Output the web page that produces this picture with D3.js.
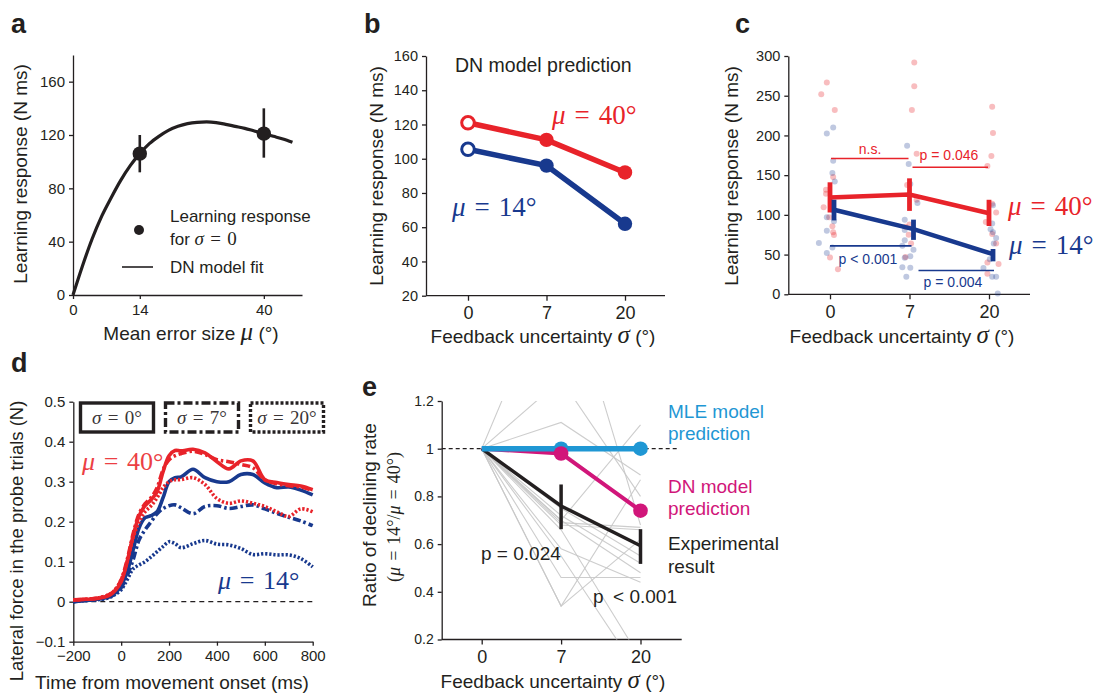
<!DOCTYPE html>
<html><head><meta charset="utf-8">
<script src="https://cdn.jsdelivr.net/npm/d3@7/dist/d3.min.js"></script>
<style>
body{margin:0;background:#fff;}
svg{display:block;}
</style></head><body>
<svg id="fig" width="1099" height="694"></svg>
<script>
// ================= DATA =================
// panel a : DN model fit and observed learning response (sigma = 0)
const fitMu   = [0,2,4,6,8,10,12,14,16,18,20,22,24,26,28,30,32,34,36,38,40,42,44,46];
const fitResp = [0,22,42,59,73,86,97,106,113.5,119,123.5,126.5,128.5,129.5,129.8,129.3,128,126.5,125,123,121,119,117,114.5];
const obsMu   = [14, 40];
const obsResp = [106, 121];
const obsLo   = [92, 103];
const obsHi   = [120, 140];
const aYTicks = [0, 40, 80, 120, 160];
const aXTicks = [0, 14, 40];

// shared categories
const sigmaCats = ["0", "7", "20"];

// panel b : DN model prediction
const dnPred40 = [121, 111, 92];
const dnPred14 = [105.5, 96, 62];
const bYTicks = [20, 40, 60, 80, 100, 120, 140, 160];

// panel c : experimental learning response (mean, sem) and subjects [value, jitter]
const mean40 = [122, 125.5, 102];
const lo40   = [103, 105, 86];
const hi40   = [141, 146, 119];
const mean14 = [106.5, 82, 50.5];
const lo14   = [93, 68.5, 41.5];
const hi14   = [119, 94, 57];
const subj40s0  = [[252,-0.11],[266.5,-0.04],[232,0.06],[147.6,0.04],[131.6,-0.05],[126.6,-0.05],[109.6,-0.08],[97,-0.01],[85.6,0.03],[78,0.04],[74.7,0.05],[46.3,0.0],[31.6,0.10]];
const subj40s7  = [[291.7,0.06],[262,0.06],[232,0.03],[177,0.09],[137.7,-0.03],[119,0.09],[88,0.0],[85,-0.05],[75,-0.01],[64,0.02],[47,-0.05]];
const subj40s20 = [[236,0.04],[203,0.05],[174,0.03],[161.6,-0.02],[114,0.04],[103,0.09],[91,-0.04],[76,0.04],[64,0.09],[40,-0.02],[38,0.12],[26,-0.02]];
const subj14s0  = [[202.5,-0.04],[210,0.04],[168,0.04],[152.7,0.03],[142,0.06],[106,0.03],[97,-0.04],[92,0.05],[80,-0.04],[64.5,-0.14],[59,0.03],[52,-0.04]];
const subj14s7  = [[187,-0.03],[164,-0.01],[139,0.01],[115,0.10],[94,-0.06],[81,-0.06],[68,-0.06],[61,-0.09],[56,0.05],[46,-0.06],[48,0.01],[34,-0.09],[33.5,0.01],[22,-0.04]];
const subj14s20 = [[112,0.05],[89,0.04],[82,0.02],[78,0.05],[71,0.09],[64,0.06],[44,0.01],[33,-0.07],[22,0.04],[22,0.09],[1,0.11]];
const cYTicks = [0, 50, 100, 150, 200, 250, 300];
const sigNs   = 171, sig046 = 160, sig001 = 61, sig004 = 30; // bracket levels (N ms)

// panel d : lateral force time courses
const tD = [-200,-150,-100,-50,-25,0,25,50,75,100,125,150,175,200,225,250,300,350,400,450,500,550,600,650,700,750,800];
const f40s0  = [0.005,0.006,0.008,0.016,0.028,0.05,0.1,0.165,0.215,0.24,0.255,0.275,0.325,0.365,0.378,0.377,0.381,0.372,0.35,0.332,0.352,0.352,0.305,0.298,0.293,0.289,0.28];
const f40s7  = [0.004,0.006,0.009,0.018,0.03,0.055,0.105,0.17,0.22,0.245,0.26,0.285,0.33,0.355,0.365,0.37,0.376,0.368,0.355,0.35,0.343,0.335,0.305,0.295,0.29,0.287,0.278];
const f40s20 = [0.004,0.006,0.009,0.018,0.03,0.055,0.1,0.16,0.2,0.225,0.24,0.26,0.285,0.3,0.305,0.305,0.31,0.293,0.258,0.246,0.252,0.246,0.238,0.225,0.213,0.232,0.225];
const f14s0  = [0.0,0.003,0.006,0.013,0.022,0.04,0.075,0.13,0.185,0.21,0.215,0.225,0.26,0.3,0.31,0.312,0.331,0.31,0.3,0.3,0.318,0.318,0.297,0.285,0.287,0.279,0.267];
const f14s7  = [0.0,0.003,0.006,0.012,0.02,0.035,0.065,0.105,0.155,0.18,0.2,0.22,0.233,0.24,0.242,0.235,0.22,0.238,0.24,0.233,0.238,0.242,0.232,0.221,0.211,0.202,0.19];
const f14s20 = [0.0,0.003,0.005,0.01,0.018,0.03,0.055,0.082,0.092,0.1,0.112,0.125,0.138,0.15,0.145,0.135,0.145,0.153,0.144,0.142,0.133,0.118,0.12,0.117,0.117,0.108,0.087];
const dXTicks = [-200, 0, 200, 400, 600, 800];
const dYTicks = [-0.1, 0, 0.1, 0.2, 0.3, 0.4, 0.5];

// panel e : ratio of declining rate
const mleRatio = [1, 1, 1];
const dnRatio  = [1, 0.98, 0.74];
const expRatio = [1, 0.76, 0.593];
const expLo    = [null, 0.6625, 0.517];
const expHi    = [null, 0.85, 0.6625];
const subjR7   = [1.79,1.29,1.11,0.99,0.70,0.69,0.68,0.72,0.70,0.58,0.46,0.34,0.34,0.66,0.55,0.75];
const subjR20  = [0.68,0.80,0.89,0.74,1.10,0.67,0.66,0.52,0.48,0.44,0.46,0.87,0.62,0.12,0.05,0.55];
const eYTicks = [0.2, 0.4, 0.6, 0.8, 1, 1.2];

// ================= STYLE =================
const SANS = '"Liberation Sans", Arial, Helvetica, sans-serif';
const SERIF = '"Liberation Serif", "Times New Roman", serif';
const INK = '#231f20';
const RED = '#e8232a';
const BLUE = '#18398e';
const MLE = '#1f97d4';
const DNC = '#d1167a';

const svg = d3.select('#fig');

function styleAxis(g, fs) {
  g.select('.domain').attr('stroke', INK).attr('stroke-width', 1.3);
  g.selectAll('.tick line').attr('stroke', INK).attr('stroke-width', 1.3);
  g.selectAll('.tick text').attr('fill', INK).attr('font-size', fs).attr('font-family', SANS);
}
function yAxis(scale, x, ticks, fs, fmt) {
  const g = svg.append('g').attr('transform', `translate(${x},0)`)
    .call(d3.axisLeft(scale).tickValues(ticks).tickSize(4).tickSizeOuter(0).tickPadding(4).tickFormat(fmt || d3.format('')));
  styleAxis(g, fs);
  return g;
}
function catAxis(scale, y, x0, x1, fs) {
  const g = svg.append('g').attr('transform', `translate(0,${y})`)
    .call(d3.axisBottom(scale).tickSize(5).tickSizeOuter(0).tickPadding(6));
  g.select('.domain').remove();
  g.append('line').attr('x1', x0).attr('x2', x1).attr('stroke', INK).attr('stroke-width', 1.3);
  styleAxis(g, fs);
  return g;
}
function panelLetter(ch, x, y) {
  svg.append('text').attr('x', x).attr('y', y).text(ch)
    .attr('font-family', SANS).attr('font-weight', 'bold').attr('font-size', 27).attr('fill', INK);
}
function mtext(g, x, y, parts, size, color, anchor) {
  const t = g.append('text').attr('x', x).attr('y', y).attr('font-family', SERIF)
    .attr('font-size', size).attr('fill', color).attr('text-anchor', anchor || 'start');
  parts.forEach(p => t.append('tspan').text(p[0]).attr('font-style', p[1] ? 'italic' : 'normal'));
  return t;
}
function mixTitle(x, y, pre, sym, post, rotate) {
  const t = svg.append('text').attr('text-anchor', 'middle').attr('fill', INK)
    .attr('font-family', SANS).attr('font-size', 19);
  if (rotate) t.attr('transform', `translate(${x},${y}) rotate(-90)`);
  else t.attr('x', x).attr('y', y);
  t.append('tspan').text(pre);
  if (sym) t.append('tspan').text(sym).attr('font-family', SERIF).attr('font-style', 'italic').attr('font-size', 25);
  if (post) t.append('tspan').text(post);
  return t;
}
const sp = '\u2004';

// ================= PANEL A =================
{
  const xA = d3.scaleLinear().domain([0, 48]).range([73, 302]);
  const yA = d3.scaleLinear().domain([0, 180]).range([295, 55]);
  yAxis(yA, 73, aYTicks, 15);
  const gx = svg.append('g').attr('transform', 'translate(0,295)')
    .call(d3.axisBottom(xA).tickValues(aXTicks).tickSize(4).tickSizeOuter(0).tickPadding(5));
  styleAxis(gx, 15);
  const fit = fitMu.map((m, i) => [m, fitResp[i]]);
  svg.append('path').datum(fit)
    .attr('d', d3.line().x(d => xA(d[0])).y(d => yA(d[1])).curve(d3.curveMonotoneX))
    .attr('fill', 'none').attr('stroke', INK).attr('stroke-width', 3.2);
  obsMu.forEach((m, i) => {
    svg.append('line').attr('x1', xA(m)).attr('x2', xA(m)).attr('y1', yA(obsLo[i])).attr('y2', yA(obsHi[i]))
      .attr('stroke', INK).attr('stroke-width', 2.6);
    svg.append('circle').attr('cx', xA(m)).attr('cy', yA(obsResp[i])).attr('r', 7.2).attr('fill', INK);
  });
  // legend
  svg.append('circle').attr('cx', 139).attr('cy', 230).attr('r', 5).attr('fill', INK);
  svg.append('text').attr('x', 170).attr('y', 222).attr('font-family', SANS).attr('font-size', 17).attr('fill', INK).text('Learning response');
  const lt2 = svg.append('text').attr('x', 170).attr('y', 245).attr('font-family', SANS).attr('font-size', 17).attr('fill', INK);
  lt2.append('tspan').text('for ');
  lt2.append('tspan').text('σ').attr('font-family', SERIF).attr('font-style', 'italic').attr('font-size', 19);
  lt2.append('tspan').text(sp + '=' + sp + '0').attr('font-family', SERIF).attr('font-size', 19);
  svg.append('line').attr('x1', 122).attr('x2', 153).attr('y1', 267).attr('y2', 267).attr('stroke', INK).attr('stroke-width', 1.6);
  svg.append('text').attr('x', 170).attr('y', 273).attr('font-family', SANS).attr('font-size', 17).attr('fill', INK).text('DN model fit');
  mixTitle(27, 174, 'Learning response (N ms)', null, null, true);
  mixTitle(191, 340, 'Mean error size ', 'μ', ' (°)');
  panelLetter('a', 11, 33);
}

// ================= PANEL B =================
{
  const xB = d3.scalePoint().domain(sigmaCats).range([468, 625]);
  const yB = d3.scaleLinear().domain([20, 160]).range([295.7, 56]);
  yAxis(yB, 426, bYTicks, 14.5);
  catAxis(xB, 295.7, 426, 665, 18);
  const line = d3.line().x((d, i) => xB(sigmaCats[i])).y(d => yB(d));
  [[dnPred40, RED], [dnPred14, BLUE]].forEach(([vals, col]) => {
    svg.append('path').datum(vals).attr('d', line).attr('fill', 'none').attr('stroke', col).attr('stroke-width', 5.5);
    svg.selectAll(null).data(vals).enter().append('circle')
      .attr('cx', (d, i) => xB(sigmaCats[i])).attr('cy', d => yB(d)).attr('r', (d, i) => i === 0 ? 6.3 : 7.2)
      .attr('fill', (d, i) => i === 0 ? '#fff' : col).attr('stroke', col).attr('stroke-width', (d, i) => i === 0 ? 3 : 0);
  });
  svg.append('text').attr('x', 455).attr('y', 72).attr('font-family', SANS).attr('font-size', 19.5).attr('fill', INK).text('DN model prediction');
  mtext(svg, 552, 124, [['μ', 1], [sp + '=' + sp + '40°', 0]], 27, RED);
  mtext(svg, 452, 216, [['μ', 1], [sp + '=' + sp + '14°', 0]], 27, BLUE);
  mixTitle(383, 176, 'Learning response (N ms)', null, null, true);
  mixTitle(543, 343, 'Feedback uncertainty  ', 'σ', ' (°)');
  panelLetter('b', 364, 33);
}

// ================= PANEL C =================
{
  const xC = d3.scalePoint().domain(sigmaCats).range([830, 989]);
  const step = xC.step();
  const dodge14 = 4;
  const yC = d3.scaleLinear().domain([0, 300]).range([294.3, 56]);
  yAxis(yC, 788.3, cYTicks, 14.5);
  catAxis(xC, 294.3, 788.3, 1030, 18);
  const dotSets = [
    [subj40s0, '0', RED], [subj40s7, '7', RED], [subj40s20, '20', RED],
    [subj14s0, '0', BLUE], [subj14s7, '7', BLUE], [subj14s20, '20', BLUE]
  ];
  dotSets.forEach(([arr, cat, col]) => {
    svg.selectAll(null).data(arr).enter().append('circle')
      .attr('cx', d => xC(cat) + d[1] * step).attr('cy', d => yC(d[0])).attr('r', 3)
      .attr('fill', col).attr('fill-opacity', col === RED ? 0.3 : 0.28);
  });
  const series = [[mean40, lo40, hi40, RED, 0], [mean14, lo14, hi14, BLUE, dodge14]];
  series.forEach(([m, lo, hi, col, dx]) => {
    svg.append('path').datum(m)
      .attr('d', d3.line().x((d, i) => xC(sigmaCats[i]) + dx).y(d => yC(d)))
      .attr('fill', 'none').attr('stroke', col).attr('stroke-width', 4.5);
    sigmaCats.forEach((c, i) => {
      svg.append('line').attr('x1', xC(c) + dx).attr('x2', xC(c) + dx)
        .attr('y1', yC(lo[i])).attr('y2', yC(hi[i])).attr('stroke', col).attr('stroke-width', 4.8);
    });
  });
  // significance brackets
  const br = (c0, c1, v, col, a, b) => svg.append('line').attr('x1', xC(c0) + a).attr('x2', xC(c1) + b)
    .attr('y1', yC(v)).attr('y2', yC(v)).attr('stroke', col).attr('stroke-width', 1.6);
  br('0', '7', sigNs, RED, 1, -1);
  br('7', '20', sig046, RED, 3, -1);
  br('0', '7', sig001, BLUE, 0, 2);
  br('7', '20', sig004, BLUE, 9, 5);
  const pt = (x, y, s, col) => svg.append('text').attr('x', x).attr('y', y).attr('font-family', SANS)
    .attr('font-size', 14).attr('fill', col).attr('text-anchor', 'middle').text(s);
  pt(870, 154, 'n.s.', RED);
  pt(949, 160, 'p = 0.046', RED);
  pt(868, 264, 'p < 0.001', BLUE);
  pt(953, 287, 'p = 0.004', BLUE);
  mtext(svg, 1008, 215, [['μ', 1], [sp + '=' + sp + '40°', 0]], 27, RED);
  mtext(svg, 1009, 254, [['μ', 1], [sp + '=' + sp + '14°', 0]], 27, BLUE);
  mixTitle(738, 176, 'Learning response (N ms)', null, null, true);
  mixTitle(902, 343, 'Feedback uncertainty  ', 'σ', ' (°)');
  panelLetter('c', 735, 33);
}

// ================= PANEL D =================
{
  const xD = d3.scaleLinear().domain([-200, 800]).range([73.3, 312.7]);
  const yD = d3.scaleLinear().domain([-0.1, 0.5]).range([641.7, 401.7]);
  const gy = svg.append('g').attr('transform', 'translate(73.3,0)')
    .call(d3.axisLeft(yD).tickValues(dYTicks).tickSize(4).tickSizeOuter(0).tickPadding(4).tickFormat(d => d === 0 ? '0' : d3.format('.1f')(d)));
  styleAxis(gy, 15);
  const gx = svg.append('g').attr('transform', 'translate(0,641.7)')
    .call(d3.axisBottom(xD).tickValues(dXTicks).tickSize(4).tickSizeOuter(0).tickPadding(5));
  styleAxis(gx, 15);
  svg.append('line').attr('x1', xD(-200)).attr('x2', xD(800)).attr('y1', yD(0)).attr('y2', yD(0))
    .attr('stroke', INK).attr('stroke-width', 1.2).attr('stroke-dasharray', '5,4');
  const styles = { s0: null, s7: '8,3,2.5,3', s20: '2.2,1.9' };
  const curves = [
    [f14s20, BLUE, styles.s20], [f14s7, BLUE, styles.s7], [f14s0, BLUE, styles.s0],
    [f40s20, RED, styles.s20], [f40s7, RED, styles.s7], [f40s0, RED, styles.s0]
  ];
  const ln = d3.line().x((d, i) => xD(tD[i])).y(d => yD(d)).curve(d3.curveCatmullRom);
  curves.forEach(([vals, col, dash]) => {
    const p = svg.append('path').datum(vals).attr('d', ln).attr('fill', 'none')
      .attr('stroke', col).attr('stroke-width', 3.6);
    if (dash) p.attr('stroke-dasharray', dash);
  });
  // legend boxes
  const boxes = [[80.5, 'σ', '0°', null], [165.5, 'σ', '7°', '9,3,3,3'], [250.5, 'σ', '20°', '3,2']];
  boxes.forEach(([x, s, v, dash]) => {
    const r = svg.append('rect').attr('x', x).attr('y', 403).attr('width', 73).attr('height', 29)
      .attr('fill', '#fff').attr('stroke', INK).attr('stroke-width', 3.4);
    if (dash) r.attr('stroke-dasharray', dash);
    mtext(svg, x + 36.5, 424, [[s, 1], [sp + '=' + sp + v, 0]], 19, '#3a3536', 'middle');
  });
  mtext(svg, 82, 470, [['μ', 1], [sp + '=' + sp + '40°', 0]], 26, '#ec3f44');
  mtext(svg, 218, 589, [['μ', 1], [sp + '=' + sp + '14°', 0]], 26, BLUE);
  mixTitle(23, 541, 'Lateral force in the probe trials (N)', null, null, true).attr('font-size', 18.5);
  mixTitle(172, 689, 'Time from movement onset (ms)', null, null);
  panelLetter('d', 11, 372);
}

// ================= PANEL E =================
{
  const xE = d3.scalePoint().domain(sigmaCats).range([481.7, 640.5]);
  const yE = d3.scaleLinear().domain([0.2, 1.2]).range([639.5, 401]);
  yAxis(yE, 441.7, eYTicks, 14, d => d === 1 ? '1' : d3.format('.1f')(d));
  catAxis(xE, 639.5, 441.7, 681.7, 18);
  svg.append('clipPath').attr('id', 'eclip').append('rect')
    .attr('x', 442).attr('y', yE(1.2)).attr('width', 240).attr('height', yE(0.2) - yE(1.2));
  const lineE = d3.line().x((d, i) => xE(sigmaCats[i])).y(d => yE(d));
  const gg = svg.append('g').attr('clip-path', 'url(#eclip)');
  subjR7.forEach((v7, i) => {
    gg.append('path').datum([1, v7, subjR20[i]]).attr('d', lineE).attr('fill', 'none')
      .attr('stroke', '#c8c8c8').attr('stroke-width', 1.1).attr('stroke-opacity', 0.9);
  });
  svg.append('line').attr('x1', 441.7).attr('x2', 677).attr('y1', yE(1)).attr('y2', yE(1))
    .attr('stroke', INK).attr('stroke-width', 1.2).attr('stroke-dasharray', '4,3');
  // experimental
  svg.append('path').datum(expRatio).attr('d', lineE).attr('fill', 'none').attr('stroke', INK).attr('stroke-width', 3.5);
  [1, 2].forEach(i => {
    svg.append('line').attr('x1', xE(sigmaCats[i])).attr('x2', xE(sigmaCats[i]))
      .attr('y1', yE(expLo[i])).attr('y2', yE(expHi[i])).attr('stroke', INK).attr('stroke-width', 3.5);
  });
  svg.append('path').datum(dnRatio).attr('d', lineE).attr('fill', 'none').attr('stroke', DNC).attr('stroke-width', 4);
  svg.append('path').datum(mleRatio).attr('d', lineE).attr('fill', 'none').attr('stroke', MLE).attr('stroke-width', 5.5);
  [[mleRatio, MLE], [dnRatio, DNC]].forEach(([vals, col]) => {
    svg.selectAll(null).data(vals.slice(1)).enter().append('circle')
      .attr('cx', (d, i) => xE(sigmaCats[i + 1])).attr('cy', d => yE(d)).attr('r', 7.3).attr('fill', col);
  });
  const lab = (y, s, col) => svg.append('text').attr('x', 668).attr('y', y).attr('font-family', SANS)
    .attr('font-size', 19).attr('fill', col).text(s);
  lab(418, 'MLE model', MLE); lab(440, 'prediction', MLE);
  lab(493, 'DN model', DNC); lab(515, 'prediction', DNC);
  lab(550, 'Experimental', INK); lab(573, 'result', INK);
  svg.append('text').attr('x', 481).attr('y', 560).attr('font-family', SANS).attr('font-size', 19).attr('fill', INK).text('p = 0.024');
  svg.append('text').attr('x', 593).attr('y', 603).attr('font-family', SANS).attr('font-size', 19).attr('fill', INK).text('p\u2002< 0.001');
  mixTitle(376, 515, 'Ratio of declining rate', null, null, true);
  const t2 = svg.append('text').attr('transform', 'translate(400,517) rotate(-90)').attr('text-anchor', 'middle')
    .attr('font-family', SERIF).attr('font-size', 18).attr('fill', INK);
  [['(', 0], ['μ', 1], [sp + '=' + sp + '14°/', 0], ['μ', 1], [sp + '=' + sp + '40°)', 0]]
    .forEach(p => t2.append('tspan').text(p[0]).attr('font-style', p[1] ? 'italic' : 'normal'));
  mixTitle(553, 688, 'Feedback uncertainty  ', 'σ', ' (°)');
  panelLetter('e', 362, 396);
}
</script>
</body></html>
